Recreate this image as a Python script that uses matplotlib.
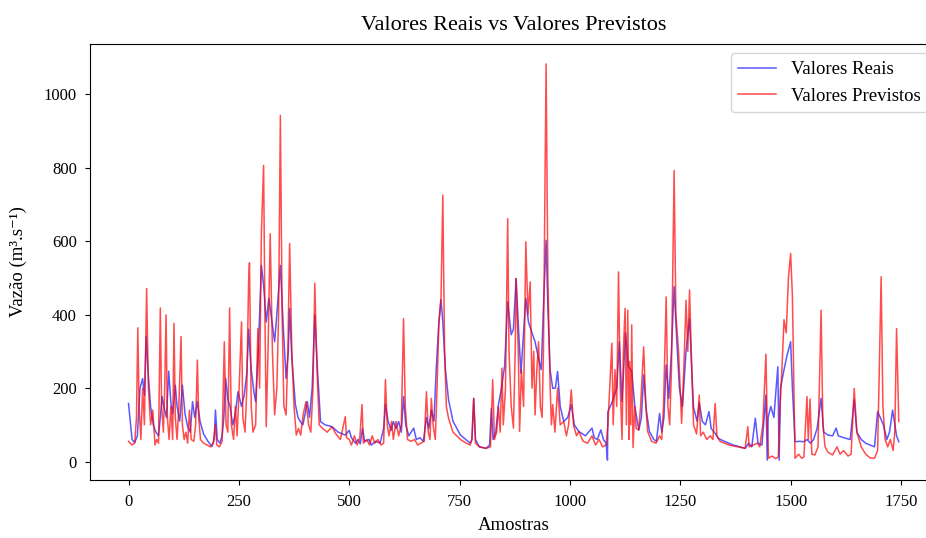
import matplotlib
matplotlib.use("Agg")
import matplotlib.pyplot as plt

plt.rcParams['font.family'] = ['Liberation Serif', 'DejaVu Serif']

title = "Valores Reais vs Valores Previstos"
xlabel = "Amostras"
ylabel = "Vazão (m³.s⁻¹)"
label_real = "Valores Reais"
label_prev = "Valores Previstos"
xticks = [0, 250, 500, 750, 1000, 1250, 1500, 1750]
yticks = [0, 200, 400, 600, 800, 1000]

# Valores Reais (vertices: sample index, value)
real_x = [0, 8, 14, 20, 26, 32, 36, 40, 44, 50, 56, 62, 68, 72, 76, 80, 86, 91, 96, 100, 106, 110, 116, 122, 128, 134, 140, 145, 150, 156, 162, 170, 180, 189, 194, 197, 201, 207, 212, 216, 220, 225, 230, 236, 242, 248, 256, 262, 268, 272, 278, 284, 288, 294, 301, 306, 312, 318, 324, 331, 336, 344, 350, 357, 362, 365, 370, 378, 384, 389, 395, 400, 405, 410, 416, 422, 428, 435, 445, 461, 475, 491, 500, 505, 514, 520, 525, 530, 535, 545, 550, 560, 570, 578, 582, 588, 595, 600, 606, 612, 618, 623, 628, 635, 646, 652, 660, 668, 675, 680, 686, 692, 697, 703, 708, 712, 718, 725, 735, 752, 774, 778, 782, 786, 795, 810, 818, 822, 826, 832, 838, 845, 852, 859, 867, 872, 878, 884, 889, 895, 900, 906, 914, 921, 929, 935, 940, 946, 950, 955, 961, 967, 972, 978, 986, 995, 1003, 1010, 1020, 1035, 1050, 1055, 1062, 1070, 1076, 1082, 1085, 1086, 1095, 1106, 1112, 1118, 1126, 1132, 1140, 1147, 1156, 1162, 1167, 1173, 1180, 1190, 1196, 1203, 1208, 1213, 1218, 1224, 1230, 1236, 1242, 1248, 1255, 1263, 1271, 1276, 1280, 1288, 1293, 1300, 1307, 1315, 1320, 1330, 1336, 1350, 1370, 1397, 1405, 1412, 1420, 1426, 1435, 1440, 1444, 1447, 1449, 1455, 1462, 1471, 1474, 1477, 1485, 1492, 1500, 1504, 1510, 1520, 1530, 1537, 1545, 1552, 1560, 1569, 1575, 1585, 1595, 1603, 1608, 1620, 1635, 1644, 1650, 1660, 1670, 1680, 1690, 1697, 1703, 1710, 1718, 1724, 1731, 1736, 1740, 1745]
real_y = [158, 60, 52, 70, 200, 226, 180, 340, 250, 150, 100, 80, 70, 120, 177, 150, 120, 246, 160, 130, 208, 150, 110, 208, 130, 95, 80, 163, 120, 163, 110, 75, 55, 41, 60, 140, 60, 50, 70, 120, 226, 170, 150, 100, 130, 190, 150, 180, 240, 360, 250, 190, 163, 300, 534, 480, 380, 444, 390, 326, 400, 534, 380, 226, 300, 417, 280, 155, 120, 109, 100, 130, 163, 120, 200, 399, 250, 109, 100, 95, 80, 72, 85, 65, 50, 60, 48, 90, 55, 60, 45, 55, 50, 90, 155, 110, 85, 109, 90, 109, 80, 177, 100, 70, 91, 60, 65, 55, 120, 90, 140, 110, 250, 376, 440, 380, 250, 168, 110, 72, 50, 60, 172, 60, 40, 36, 45, 145, 60, 80, 155, 200, 260, 435, 345, 360, 498, 350, 240, 350, 444, 380, 350, 326, 280, 250, 420, 602, 420, 250, 199, 200, 245, 150, 109, 120, 155, 100, 82, 70, 91, 65, 60, 86, 60, 50, 4, 136, 160, 199, 326, 163, 350, 260, 245, 150, 86, 120, 236, 140, 82, 60, 55, 131, 80, 120, 263, 172, 300, 476, 330, 200, 150, 300, 389, 250, 147, 110, 160, 109, 100, 136, 90, 75, 63, 55, 45, 36, 50, 40, 118, 50, 45, 120, 181, 4, 120, 150, 120, 258, 4, 200, 250, 290, 326, 200, 54, 55, 54, 60, 50, 60, 90, 172, 80, 72, 70, 91, 70, 65, 60, 168, 80, 60, 50, 45, 40, 136, 120, 100, 60, 80, 140, 100, 70, 54]

# Valores Previstos (vertices: sample index, value)
prev_x = [0, 8, 14, 18, 21, 24, 28, 32, 36, 41, 45, 50, 55, 60, 64, 68, 72, 75, 79, 82, 85, 88, 92, 96, 100, 103, 106, 110, 114, 119, 122, 126, 130, 134, 138, 142, 148, 152, 156, 159, 163, 170, 178, 186, 192, 197, 200, 206, 212, 217, 221, 225, 229, 233, 238, 242, 246, 250, 256, 259, 264, 268, 272, 274, 278, 282, 288, 293, 297, 301, 306, 309, 312, 316, 321, 326, 331, 336, 340, 344, 348, 352, 357, 361, 365, 370, 375, 380, 385, 390, 396, 402, 408, 413, 418, 422, 427, 432, 440, 450, 461, 470, 480, 491, 494, 500, 505, 512, 518, 524, 529, 532, 540, 546, 552, 558, 565, 572, 578, 582, 586, 590, 596, 600, 606, 612, 618, 623, 627, 632, 640, 648, 655, 662, 670, 675, 679, 683, 686, 690, 695, 699, 703, 708, 712, 716, 720, 725, 735, 752, 765, 774, 778, 782, 786, 795, 810, 820, 825, 829, 834, 838, 842, 846, 849, 854, 859, 862, 867, 872, 876, 878, 883, 886, 890, 895, 900, 905, 910, 914, 918, 921, 925, 929, 933, 937, 940, 946, 950, 955, 958, 961, 966, 972, 978, 986, 992, 997, 1003, 1008, 1015, 1020, 1030, 1040, 1050, 1058, 1066, 1074, 1082, 1086, 1090, 1095, 1098, 1102, 1106, 1110, 1114, 1118, 1121, 1125, 1128, 1131, 1134, 1135, 1138, 1140, 1143, 1147, 1150, 1156, 1160, 1167, 1172, 1176, 1185, 1195, 1203, 1208, 1212, 1218, 1222, 1226, 1230, 1236, 1240, 1246, 1253, 1258, 1263, 1267, 1271, 1276, 1280, 1287, 1293, 1296, 1302, 1310, 1318, 1324, 1329, 1333, 1340, 1360, 1380, 1397, 1403, 1406, 1415, 1425, 1430, 1437, 1444, 1447, 1450, 1458, 1465, 1472, 1476, 1481, 1485, 1490, 1495, 1500, 1504, 1510, 1518, 1525, 1530, 1537, 1540, 1544, 1548, 1555, 1562, 1569, 1573, 1578, 1585, 1595, 1605, 1612, 1620, 1630, 1637, 1644, 1650, 1660, 1670, 1680, 1690, 1697, 1700, 1705, 1709, 1714, 1720, 1726, 1732, 1736, 1740, 1745]
prev_y = [55, 45, 50, 120, 364, 150, 60, 200, 100, 471, 200, 100, 140, 45, 60, 50, 418, 150, 80, 200, 399, 120, 60, 150, 60, 376, 120, 60, 150, 340, 100, 60, 80, 50, 140, 60, 55, 100, 276, 120, 60, 50, 45, 40, 50, 100, 45, 40, 55, 326, 100, 80, 418, 100, 60, 150, 70, 180, 380, 120, 80, 200, 489, 541, 150, 80, 100, 362, 200, 620, 806, 400, 95, 300, 620, 300, 127, 200, 400, 942, 400, 150, 127, 300, 593, 300, 150, 72, 90, 72, 130, 163, 100, 80, 200, 485, 250, 100, 90, 80, 95, 75, 60, 122, 65, 60, 45, 70, 45, 65, 155, 50, 60, 45, 70, 50, 60, 45, 50, 223, 100, 70, 109, 60, 109, 70, 100, 389, 150, 60, 55, 60, 45, 50, 55, 190, 80, 60, 172, 100, 60, 200, 376, 450, 725, 300, 150, 118, 80, 60, 50, 45, 60, 172, 50, 40, 36, 40, 223, 60, 80, 150, 80, 254, 100, 200, 661, 300, 150, 91, 300, 498, 300, 82, 250, 150, 598, 400, 489, 200, 300, 127, 250, 326, 150, 120, 300, 1082, 500, 209, 100, 155, 80, 200, 100, 109, 70, 100, 195, 100, 70, 82, 55, 50, 70, 45, 60, 40, 45, 100, 200, 322, 100, 250, 150, 516, 200, 60, 300, 417, 100, 412, 60, 272, 100, 372, 38, 150, 90, 86, 150, 312, 150, 82, 55, 50, 70, 60, 150, 448, 150, 100, 250, 792, 400, 303, 104, 250, 439, 300, 467, 250, 100, 75, 181, 70, 80, 60, 70, 60, 158, 70, 55, 45, 40, 36, 95, 40, 45, 50, 40, 100, 292, 100, 9, 15, 8, 12, 150, 272, 386, 350, 500, 566, 450, 9, 20, 9, 12, 177, 60, 170, 20, 18, 40, 412, 100, 40, 25, 18, 40, 20, 30, 15, 20, 199, 80, 40, 20, 10, 9, 30, 200, 503, 150, 60, 40, 60, 30, 80, 362, 109]

fig = plt.figure(figsize=(9.26, 5.38), dpi=100)
ax = fig.add_axes([0.0972, 0.108, 0.915, 0.810])

ax.plot(real_x, real_y, color='blue', alpha=0.65, linewidth=1.1, label=label_real)
ax.plot(prev_x, prev_y, color='red', alpha=0.7, linewidth=1.1, label=label_prev)

ax.set_xticks(xticks)
ax.set_yticks(yticks)
ax.tick_params(labelsize=12)
ax.tick_params(axis='x', pad=7)
ax.tick_params(axis='y', pad=6)
ax.set_title(title, fontsize=16, pad=10)
ax.set_xlabel(xlabel, fontsize=13.5, labelpad=5)
ax.set_ylabel(ylabel, fontsize=13.5, labelpad=12)
ax.legend(loc='upper right', fontsize=13.5)

fig.savefig("out.png", dpi=100)
